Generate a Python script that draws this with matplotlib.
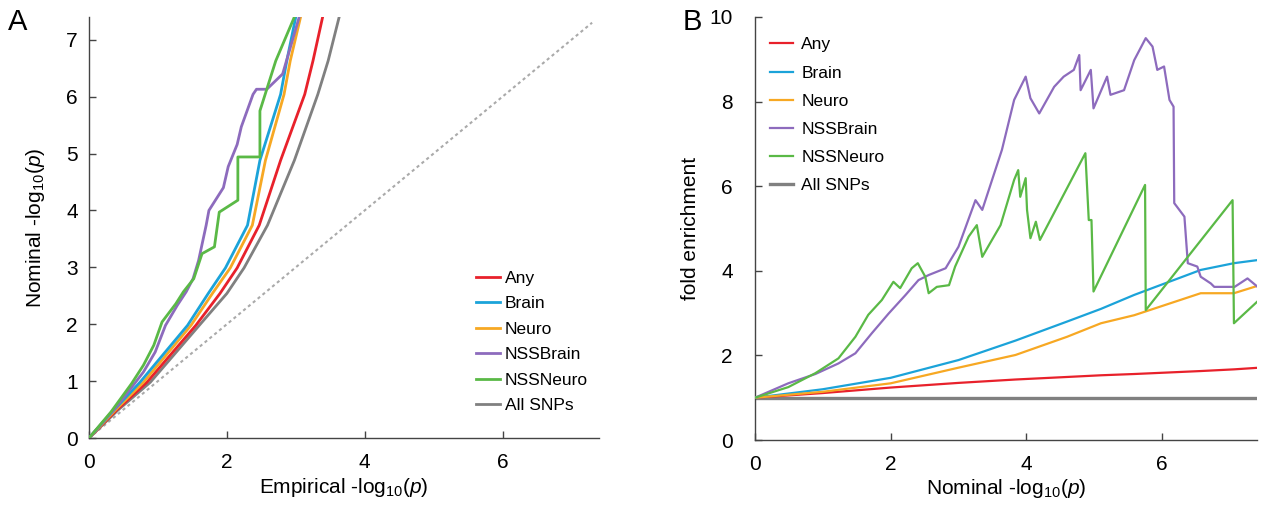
import numpy as np
import matplotlib
matplotlib.use('Agg')
from matplotlib import pyplot as plt

plt.rcParams['font.family'] = ['Liberation Sans', 'DejaVu Sans']
plt.rcParams['mathtext.fontset'] = 'custom'
plt.rcParams['mathtext.rm'] = 'Liberation Sans'
plt.rcParams['mathtext.it'] = 'Liberation Sans:italic'

names = ['Any', 'Brain', 'Neuro', 'NSSBrain', 'NSSNeuro', 'All SNPs']
colors = ['#e8212b', '#1ba3d9', '#f7a823', '#8d6bbd', '#5ab946', '#808080']

# ---- panel A: QQ curves (nominal y vs empirical x) ----
qq_y = [0, 0.49, 0.98, 1.98, 2.54, 2.99, 3.74, 4.88, 6.04, 6.63, 7.4]
qq_any = [0, 0.40, 0.84, 1.55, 1.90, 2.15, 2.47, 2.78, 3.13, 3.25, 3.39]
qq_brain = [0, 0.36, 0.74, 1.43, 1.73, 1.98, 2.30, 2.48, 2.78, 2.87, 3.00]
qq_neuro = [0, 0.38, 0.79, 1.48, 1.79, 2.05, 2.37, 2.56, 2.83, 2.92, 3.07]
qq_all = [0, 0.42, 0.89, 1.60, 2.00, 2.25, 2.59, 2.98, 3.32, 3.47, 3.63]

nssbrain_y = [0, 0.58, 1.16, 1.51, 1.98, 2.33, 2.57, 2.80, 3.12, 3.74, 4.00, 4.40,
              4.77, 5.16, 5.47, 6.04, 6.13, 6.13, 6.40, 7.4]
nssbrain_x = [0, 0.42, 0.79, 0.96, 1.11, 1.28, 1.41, 1.51, 1.59, 1.70, 1.74, 1.95,
              2.02, 2.15, 2.21, 2.38, 2.43, 2.58, 2.81, 3.05]
nssneuro_y = [0, 0.46, 0.96, 1.28, 1.63, 2.04, 2.36, 2.57, 2.80, 3.24, 3.36, 3.97,
              4.18, 4.94, 4.94, 5.75, 6.63, 7.4]
nssneuro_x = [0, 0.32, 0.62, 0.79, 0.94, 1.06, 1.26, 1.37, 1.52, 1.64, 1.82, 1.89,
              2.16, 2.16, 2.48, 2.48, 2.71, 2.98]

# ---- panel B: fold enrichment ----
fe_x = [0, 1, 2, 3, 3.84, 4.6, 5.1, 5.59, 6.57, 7.06, 7.44]
fe_any = [1.0, 1.11, 1.24, 1.35, 1.43, 1.49, 1.53, 1.56, 1.63, 1.67, 1.71]
fe_brain = [1.0, 1.20, 1.47, 1.89, 2.35, 2.80, 3.10, 3.43, 4.02, 4.18, 4.26]
fe_neuro = [1.0, 1.14, 1.34, 1.71, 2.01, 2.44, 2.76, 2.95, 3.47, 3.47, 3.66]

nssb_x = [0, 0.49, 0.89, 1.23, 1.48, 1.72, 1.97, 2.22, 2.41, 2.56, 2.81, 3.0, 3.25, 3.35,
          3.64, 3.82, 3.99, 4.06, 4.19, 4.41, 4.55, 4.70, 4.78, 4.80, 4.95, 4.99, 5.19,
          5.24, 5.44, 5.59, 5.76, 5.86, 5.93, 6.03, 6.11, 6.17, 6.18, 6.33, 6.38, 6.52,
          6.57, 6.72, 6.77, 7.07, 7.26, 7.41]
nssb_fe = [1.0, 1.34, 1.56, 1.81, 2.05, 2.52, 2.99, 3.43, 3.78, 3.90, 4.06, 4.57, 5.67, 5.44,
           6.86, 8.04, 8.59, 8.08, 7.72, 8.35, 8.59, 8.75, 9.10, 8.27, 8.75, 7.84, 8.59,
           8.16, 8.27, 8.98, 9.50, 9.30, 8.75, 8.83, 8.04, 7.88, 5.60, 5.28, 4.18, 4.10,
           3.86, 3.70, 3.62, 3.62, 3.82, 3.62]
nssn_x = [0, 0.49, 0.89, 1.23, 1.48, 1.67, 1.87, 2.04, 2.14, 2.31, 2.40, 2.51, 2.56, 2.68,
          2.86, 2.95, 3.15, 3.27, 3.35, 3.45, 3.62, 3.82, 3.88, 3.91, 3.99, 4.01, 4.06,
          4.14, 4.20, 4.87, 4.92, 4.96, 4.99, 5.75, 5.76, 7.04, 7.06, 7.43]
nssn_fe = [1.0, 1.25, 1.58, 1.93, 2.44, 2.96, 3.31, 3.74, 3.59, 4.06, 4.18, 3.86, 3.47, 3.62,
           3.66, 4.10, 4.81, 5.08, 4.33, 4.61, 5.08, 6.15, 6.38, 5.75, 6.19, 5.44, 4.77,
           5.16, 4.73, 6.78, 5.20, 5.20, 3.51, 6.03, 3.07, 5.67, 2.76, 3.31]

fig = plt.figure(figsize=(12.67, 5.08), dpi=100)
axA = fig.add_axes([89 / 1267, 1 - 438 / 508, 510 / 1267, 421 / 508])
axB = fig.add_axes([755 / 1267, 1 - 440 / 508, 502 / 1267, 423 / 508])

lw = 2.0
axA.plot([0, 7.3], [0, 7.3], color='#aaaaaa', lw=1.5, ls=(0, (1.5, 1.5)))
axA.plot(qq_all, qq_y, color=colors[5], lw=lw, label=names[5], zorder=2)
axA.plot(qq_any, qq_y, color=colors[0], lw=lw, label=names[0], zorder=3)
axA.plot(qq_neuro, qq_y, color=colors[2], lw=lw, label=names[2], zorder=3)
axA.plot(qq_brain, qq_y, color=colors[1], lw=lw, label=names[1], zorder=3)
axA.plot(nssbrain_x, nssbrain_y, color=colors[3], lw=lw, label=names[3], zorder=4)
axA.plot(nssneuro_x, nssneuro_y, color=colors[4], lw=lw, label=names[4], zorder=4)

lwb = 1.6
axB.axhline(1.0, color=colors[5], lw=2.4, label=names[5], zorder=2)
axB.plot(fe_x, fe_any, color=colors[0], lw=lwb, label=names[0], zorder=3)
axB.plot(fe_x, fe_brain, color=colors[1], lw=lwb, label=names[1], zorder=3)
axB.plot(fe_x, fe_neuro, color=colors[2], lw=lwb, label=names[2], zorder=3)
axB.plot(nssb_x, nssb_fe, color=colors[3], lw=lwb, label=names[3], zorder=4)
axB.plot(nssn_x, nssn_fe, color=colors[4], lw=lwb, label=names[4], zorder=4)

for ax in (axA, axB):
    for s in ('top', 'right'):
        ax.spines[s].set_visible(False)
    for s in ('left', 'bottom'):
        ax.spines[s].set_color('#444444')
        ax.spines[s].set_linewidth(1.0)
    ax.tick_params(direction='in', length=5, width=1, color='#444444', labelsize=15)
    ax.set_xlim(0, 7.4)
    ax.set_xticks([0, 2, 4, 6])

axA.set_ylim(0, 7.4)
axA.set_yticks(range(8))
axA.tick_params(axis='y', pad=8)
axA.tick_params(axis='x', pad=11)
axB.set_ylim(0, 10)
axB.set_yticks([0, 2, 4, 6, 8, 10])
axB.tick_params(axis='y', pad=16)
axB.tick_params(axis='x', pad=11)

axA.set_xlabel(r'Empirical -log$_{10}$($p$)', fontsize=15, labelpad=3)
axA.set_ylabel(r'Nominal -log$_{10}$($p$)', fontsize=15, labelpad=14)
axB.set_xlabel(r'Nominal -log$_{10}$($p$)', fontsize=15, labelpad=2)
axB.set_ylabel('fold enrichment', fontsize=15, labelpad=7)

hA, lA = axA.get_legend_handles_labels()
hA = [hA[lA.index(n)] for n in names]
axA.legend(hA, names, loc='upper left', bbox_to_anchor=(0.759, 0.398), frameon=False,
           fontsize=12.5, handlelength=1.35, handletextpad=0.3, labelspacing=0.6,
           borderpad=0, borderaxespad=0)
hB, lB = axB.get_legend_handles_labels()
hB = [hB[lB.index(n)] for n in names]
axB.legend(hB, names, loc='upper left', bbox_to_anchor=(0.03, 0.952), frameon=False,
           fontsize=12.5, handlelength=1.35, handletextpad=0.45, labelspacing=0.75,
           borderpad=0, borderaxespad=0)

fig.text(8 / 1267, 1 - 30 / 508, 'A', fontsize=21)
fig.text(683 / 1267, 1 - 30 / 508, 'B', fontsize=21)

fig.savefig('out.png', dpi=100)
